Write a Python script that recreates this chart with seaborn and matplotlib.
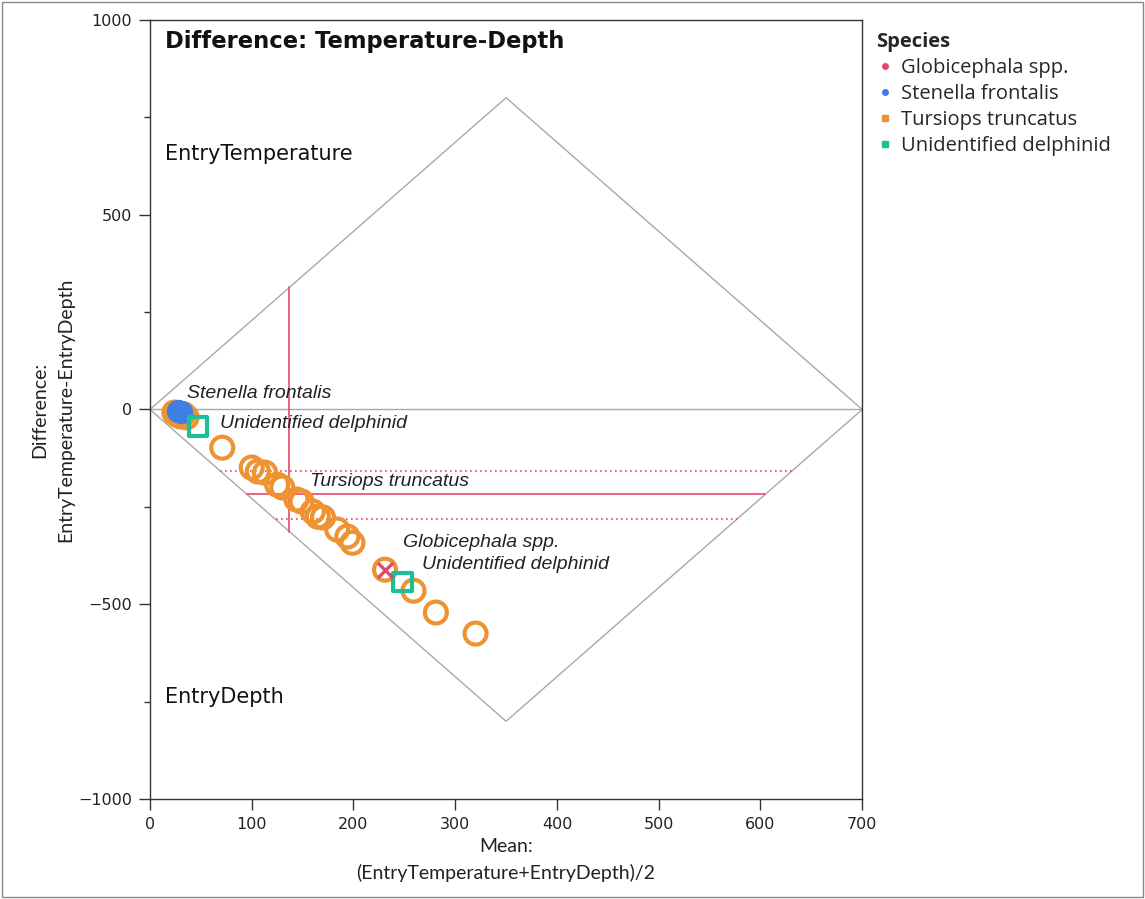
import numpy as np
import pandas as pd
import matplotlib
matplotlib.use("Agg")
import matplotlib.pyplot as plt
from matplotlib.lines import Line2D
import seaborn as sns

sns.set_theme(style="white")
plt.rcParams["font.family"] = ["Lato", "DejaVu Sans"]

# ---------------- data ----------------
tursiops_mean = [24, 27, 30, 33, 36, 71, 100, 106, 113, 125, 130, 144, 149, 160, 165, 170,
                 184, 194, 199, 231, 259, 281, 320]
tursiops_diff = [-8, -14, -18, -12, -20, -98, -149, -159, -162, -193, -200, -231, -236, -262,
                 -275, -277, -308, -326, -342, -411, -465, -521, -575]
stenella_mean = [28, 30]
stenella_diff = [-3, -6]
unid_mean = [47, 248]
unid_diff = [-44, -442]
globi_mean = [231]
globi_diff = [-411]

species = ["Globicephala spp.", "Stenella frontalis", "Tursiops truncatus", "Unidentified delphinid"]
colors = ["#E5466A", "#3D7FE3", "#EF9231", "#1DBE98"]

# Tursiops summary (mean difference and confidence limits, mean of means)
diff_mean = -218
diff_lo = -282
diff_hi = -157
mean_of_means = 137

# Diamond describing the original axes ranges
x_max = 700
peak = 800

x_ticks = [0, 100, 200, 300, 400, 500, 600, 700]
y_ticks = [-1000, -500, 0, 500, 1000]

# ---------------- figure ----------------
fig = plt.figure(figsize=(11.45, 8.99), dpi=100)
ax = fig.add_axes([0.131, 0.111, 0.622, 0.867])

slope = peak / (x_max / 2)
# diamond
ax.plot([0, x_max / 2, x_max, x_max / 2, 0], [0, peak, 0, -peak, 0],
        color="#A8A8A8", lw=1.0, zorder=1)
ax.plot([0, x_max], [0, 0], color="#A8A8A8", lw=1.0, zorder=1)

red = "#E8486A"
# vertical mean-of-means line clipped to diamond
ax.plot([mean_of_means, mean_of_means], [-slope * mean_of_means, slope * mean_of_means],
        color=red, lw=1.2, zorder=2)
# horizontal mean difference and CI lines clipped to diamond
for d, ls in [(diff_mean, "-"), (diff_lo, (0, (1, 2))), (diff_hi, (0, (1, 2)))]:
    ax.plot([abs(d) / slope, x_max - abs(d) / slope], [d, d], color=red, lw=1.2,
            linestyle=ls, zorder=2)

# points
df_t = pd.DataFrame({"x": tursiops_mean, "y": tursiops_diff})
df_s = pd.DataFrame({"x": stenella_mean, "y": stenella_diff})
df_u = pd.DataFrame({"x": unid_mean, "y": unid_diff})
df_g = pd.DataFrame({"x": globi_mean, "y": globi_diff})

sns.scatterplot(data=df_t, x="x", y="y", ax=ax, marker="o", s=250, facecolors="none",
                edgecolors=colors[2], linewidths=3.0, legend=False, zorder=3)
sns.scatterplot(data=df_s, x="x", y="y", ax=ax, marker="o", s=250, color=colors[1],
                edgecolor=colors[1], linewidth=1, legend=False, zorder=4)
sns.scatterplot(data=df_u, x="x", y="y", ax=ax, marker="s", s=175, facecolors="none",
                edgecolors=colors[3], linewidths=3.0, legend=False, zorder=5)
sns.scatterplot(data=df_g, x="x", y="y", ax=ax, marker="x", s=120, color=colors[0],
                linewidth=2.4, legend=False, zorder=6)

# annotations
ital = dict(fontsize=14, style="italic", color="#222222", va="center", ha="left",
            family=["Liberation Sans", "DejaVu Sans"])
ax.text(36, 40, "Stenella frontalis", **ital)
ax.text(69, -36, "Unidentified delphinid", **ital)
ax.text(157, -185, "Tursiops truncatus", **ital)
ax.text(249, -341, "Globicephala spp.", **ital)
ax.text(267, -398, "Unidentified delphinid", **ital)

plain = dict(family=["DejaVu Sans"], color="#111111", va="center", ha="left")
ax.text(15, 655, "EntryTemperature", fontsize=15, **plain)
ax.text(15, -739, "EntryDepth", fontsize=15, **plain)
ax.text(0.021, 0.972, "Difference: Temperature-Depth", transform=ax.transAxes,
        fontsize=16.3, fontweight="bold", **plain)

# axes
ax.set_xlim(0, x_max)
ax.set_ylim(-1000, 1000)
ax.set_xticks(x_ticks)
ax.set_yticks(y_ticks)
ax.set_yticks([-750, -250, 250, 750], minor=True)
ax.tick_params(axis="both", which="major", direction="out", length=8, width=1, pad=5,
               labelsize=11.5, color="#333333", labelcolor="#222222", left=True, bottom=True)
ax.tick_params(axis="y", which="minor", direction="out", length=4, width=1, color="#333333", left=True)
for lab in ax.get_xticklabels() + ax.get_yticklabels():
    lab.set_family(["DejaVu Sans"])
for sp in ax.spines.values():
    sp.set_color("#333333")
    sp.set_linewidth(1.0)
ax.set_xlabel("Mean:\n(EntryTemperature+EntryDepth)/2", fontsize=14, color="#222222",
              labelpad=4, linespacing=1.6)
ax.set_ylabel("Difference:\nEntryTemperature-EntryDepth", fontsize=14, color="#222222",
              labelpad=3, linespacing=1.6)
ax.grid(False)

# legend
handles = []
for name, c in zip(species, colors):
    mk = "o" if name in ("Globicephala spp.", "Stenella frontalis") else "s"
    handles.append(Line2D([0], [0], marker=mk, linestyle="", markersize=4.0,
                          markerfacecolor=c, markeredgecolor=c, label=name))
leg = fig.legend(handles=handles, title="Species", loc="upper left",
                 bbox_to_anchor=(0.762, 0.969), frameon=False,
                 prop={"family": ["Open Sans", "DejaVu Sans"], "size": 14.5},
                 title_fontproperties={"family": ["Open Sans", "DejaVu Sans"],
                                       "weight": "bold", "size": 14.5},
                 handletextpad=0.4, handlelength=0.8, labelspacing=0.3,
                 borderaxespad=0.0, borderpad=0.2)
leg._legend_box.align = "left"

# outer frame
fig.patches.append(matplotlib.patches.Rectangle((0.002, 0.002), 0.996, 0.996,
                   transform=fig.transFigure, fill=False, edgecolor="#888888", lw=1))

fig.savefig("out.png", dpi=100)
